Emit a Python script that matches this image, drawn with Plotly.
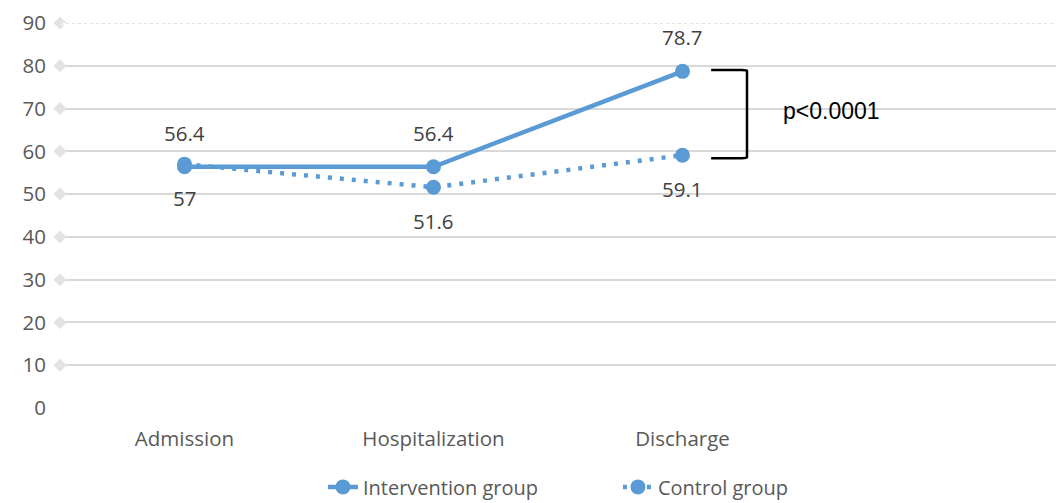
import plotly.graph_objects as go

categories = ["Admission", "Hospitalization", "Discharge"]
intervention = [56.4, 56.4, 78.7]
control = [57, 51.6, 59.1]
y_ticks = [0, 10, 20, 30, 40, 50, 60, 70, 80, 90]
p_label = "p<0.0001"

BLUE = "#5B9BD5"
GRID = "#D9D9D9"
TXT = "#595959"
FONT = "Open Sans"

fig = go.Figure()

# faint diamond markers on the value axis (as in the original)
fig.add_trace(go.Scatter(
    x=[0] * (len(y_ticks) - 1), y=y_ticks[1:], mode="markers", xaxis="x2",
    marker=dict(symbol="diamond", size=10, color="#E3E3E3"),
    showlegend=False, hoverinfo="skip", cliponaxis=False))

fig.add_trace(go.Scatter(
    x=categories, y=control, mode="lines+markers", name="Control group",
    line=dict(color=BLUE, width=4.5, dash="4px,8px"),
    marker=dict(symbol="circle", size=15, color=BLUE),
    cliponaxis=False))

fig.add_trace(go.Scatter(
    x=categories, y=intervention, mode="lines+markers", name="Intervention group",
    line=dict(color=BLUE, width=4.5),
    marker=dict(symbol="circle", size=15, color=BLUE),
    cliponaxis=False))

for c, v in zip(categories, intervention):
    fig.add_annotation(x=c, y=v, text=str(v), showarrow=False, yshift=34,
                       font=dict(family=FONT, size=20.5, color="#404040"))
for c, v in zip(categories, control):
    fig.add_annotation(x=c, y=v, text=str(v), showarrow=False, yshift=-34,
                       font=dict(family=FONT, size=20.5, color="#404040"))

# bracket between discharge values
top = intervention[2] + 0.3
bot = control[2] - 0.7
x0, x1 = 2.115, 2.259
rx, ry = 0.022, 0.15
path = (f"M {x0},{top} L {x1 - rx},{top} Q {x1},{top} {x1},{top - ry} "
        f"L {x1},{bot + ry} Q {x1},{bot} {x1 - rx},{bot} L {x0},{bot}")
fig.add_shape(type="path", path=path, xref="x", yref="y",
              line=dict(color="black", width=2.5))
fig.add_annotation(x=2.6, y=(intervention[2] + control[2]) / 2, text=p_label,
                   showarrow=False, yshift=2,
                   font=dict(family="Liberation Sans", size=23, color="black"))

# dotted top gridline
fig.add_shape(type="line", xref="paper", yref="y", x0=0, x1=1, y0=90, y1=90,
              line=dict(color="white", width=3))
fig.add_shape(type="line", xref="paper", yref="y", x0=0, x1=1, y0=90, y1=90,
              line=dict(color=GRID, width=1.5, dash="dot"))

fig.update_layout(
    width=1056, height=503,
    margin=dict(l=60, r=0, t=23, b=95, autoexpand=False),
    paper_bgcolor="white", plot_bgcolor="white",
    font=dict(family=FONT, size=20, color=TXT),
    xaxis=dict(type="category", categoryorder="array", categoryarray=categories,
               range=[-0.5, 3.5], showgrid=False, zeroline=False, showline=False,
               tickfont=dict(family=FONT, size=20.5, color=TXT),
               ticklabelstandoff=16, automargin=False),
    xaxis2=dict(overlaying="x", range=[0, 1], visible=False),
    yaxis=dict(range=[0, 90], tickvals=y_ticks, showgrid=True, gridcolor=GRID,
               gridwidth=1.5, zeroline=False, showline=False,
               tickfont=dict(family=FONT, size=20.5, color=TXT),
               ticklabelstandoff=13, automargin=False),
    legend=dict(orientation="h", x=0.264, xanchor="left", y=-0.205, yanchor="middle",
                traceorder="reversed", font=dict(family=FONT, size=20, color=TXT),
                entrywidth=250, entrywidthmode="pixels"),
    showlegend=True,
)

fig.write_html("out.html")
